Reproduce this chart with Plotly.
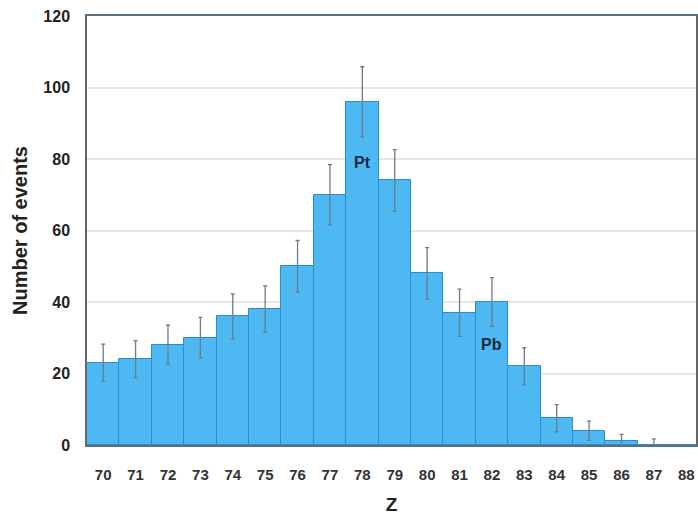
import plotly.graph_objects as go

z_values = list(range(70, 89))
counts = [23, 24, 28, 30, 36, 38, 50, 70, 96, 74, 48, 37, 40, 22, 7.5, 4, 1, 0, 0]
errors = [5.2, 5.2, 5.5, 5.7, 6.3, 6.5, 7.2, 8.4, 9.8, 8.6, 7.2, 6.6, 6.8, 5.2, 3.8, 2.7, 2.0, 1.7, 0]
tick_labels = [str(v) for v in z_values]
label_text = ["Pt", "Pb"]
label_x = [78, 82]
label_y = [79, 28]

fig = go.Figure()
fig.add_trace(go.Bar(
    x=z_values, y=counts,
    marker=dict(color="#4db8f2", line=dict(color="#2a8cce", width=1)),
    error_y=dict(type="data", array=errors, visible=True, color="#6b7c8c",
                 thickness=1.3, width=2),
    width=1.0,
))
for t, xx, yy in zip(label_text, label_x, label_y):
    fig.add_annotation(x=xx, y=yy, text="<b>%s</b>" % t, showarrow=False,
                       font=dict(size=16, color="#1c2b40", family="Liberation Sans, Arial"))

fig.update_layout(
    width=698, height=518,
    margin=dict(l=87, r=0, t=16, b=73),
    plot_bgcolor="white", paper_bgcolor="white",
    showlegend=False, bargap=0,
    font=dict(family="Liberation Sans, Arial", color="#333333"),
)
fig.update_xaxes(
    range=[69.5, 88.3], tickvals=z_values, ticktext=["<b>%s</b>" % s for s in tick_labels],
    tickfont=dict(size=15, color="#333333"), ticklabelstandoff=15,
    showgrid=False, showline=True, linecolor="#5a7080", linewidth=1.5, mirror=True,
    title=dict(text="<b>Z</b>", font=dict(size=19, color="#222222"), standoff=16),
    zeroline=False,
)
fig.update_yaxes(
    range=[0, 120], tickvals=[0, 20, 40, 60, 80, 100, 120],
    ticktext=["<b>%d</b>" % v for v in [0, 20, 40, 60, 80, 100, 120]],
    tickfont=dict(size=16, color="#222222"), ticklabelstandoff=12,
    showgrid=True, gridcolor="#e6e6e6", gridwidth=1.5,
    showline=True, linecolor="#666666", linewidth=1.5, mirror=True,
    zeroline=False,
    title=dict(text="<b>Number of events</b>", font=dict(size=20, color="#222222"), standoff=10),
)
fig.write_html("out.html")
